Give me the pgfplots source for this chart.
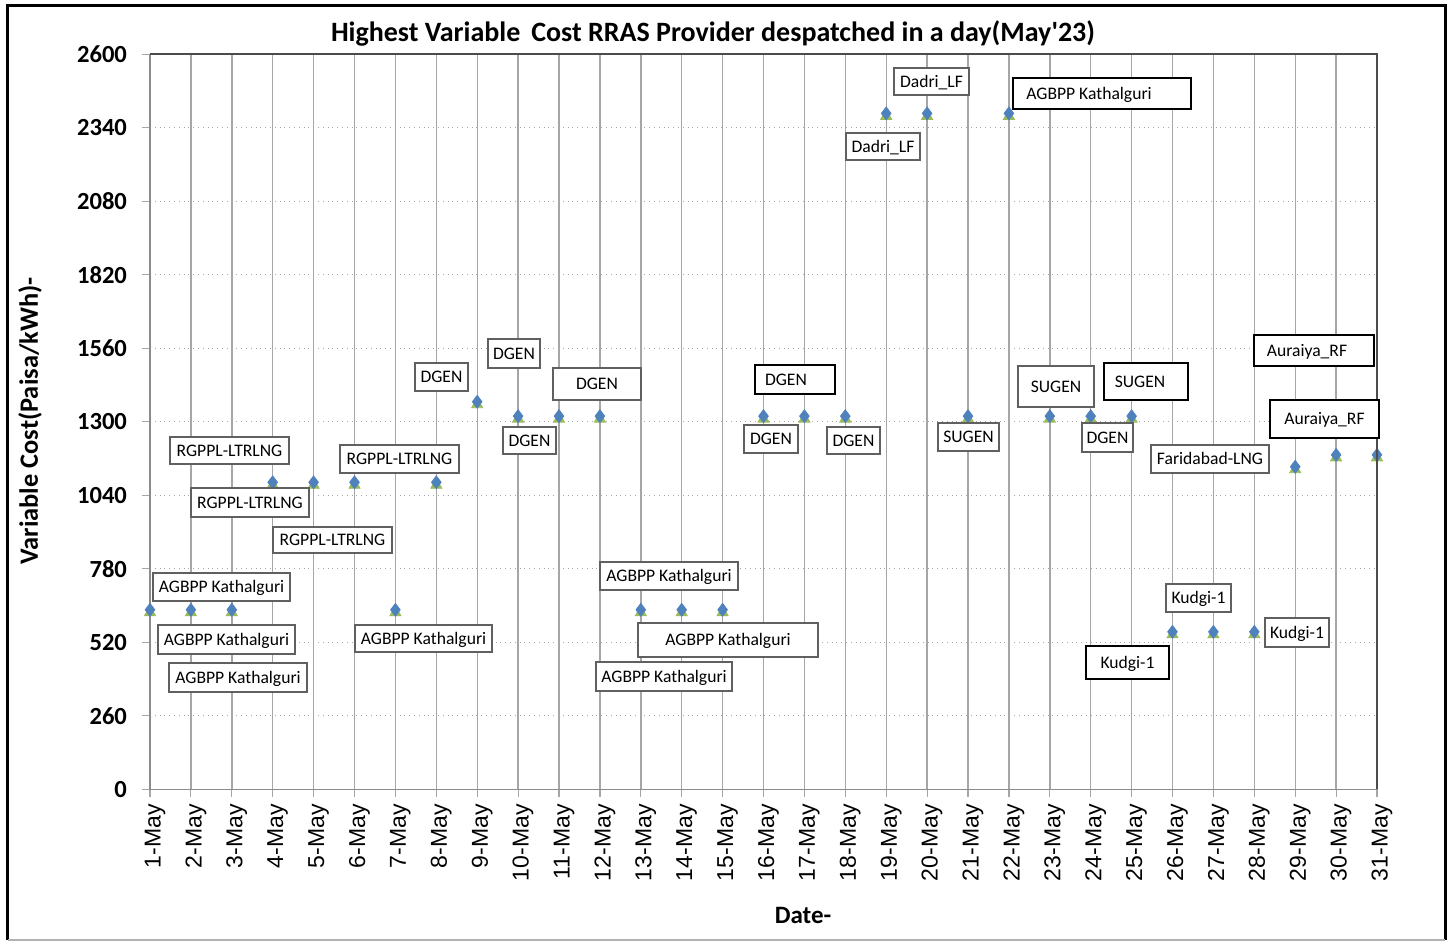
\documentclass[border=0pt]{standalone}
\usepackage{fontspec}
\setmainfont{Carlito}
\newfontfamily\arialf{Liberation Sans}
\usepackage{pgfplots}
\pgfplotsset{compat=1.18}
\definecolor{mkblue}{HTML}{4F81BD}
\definecolor{mkgreen}{HTML}{9BBB59}
\definecolor{gridc}{HTML}{A6A6A6}
\definecolor{boxc}{HTML}{606060}
\newcommand{\annfont}{\fontsize{8.8}{10}\selectfont}
% \ann[color]{px}{py}{w}{h}{dx}{text}
\newcommand{\ann}[7][boxc]{%
  \node[draw=#1, fill=white, line width=0.8pt, minimum width=#4*0.5pt, minimum height=#5*0.5pt, inner sep=0pt]
    at ({(#2-150)*0.5pt},{(789.3-#3)*0.5pt}) {};
  \node[font=\annfont, inner sep=0pt, anchor=base]
    at ({(#2+#6-150)*0.5pt},{(789.3-#3)*0.5pt-3pt}) {#7};}
\pgfplotstableread{
x y
1 635
2 635
3 635
4 1086
5 1086
6 1086
7 635
8 1086
9 1371
10 1320
11 1320
12 1320
13 635
14 635
15 635
16 1320
17 1320
18 1320
19 2391
20 2391
21 1320
22 2391
23 1320
24 1320
25 1320
26 557
27 557
28 557
29 1141
30 1183
31 1183
}\costdata
\begin{document}
\begin{tikzpicture}
\path[use as bounding box] (-75pt,-75.85pt) rectangle (651.5pt,394.65pt);
\begin{axis}[
  at={(0pt,0pt)}, anchor=south west,
  scale only axis, width=613.5pt, height=367.5pt,
  xmin=1, xmax=31, ymin=0, ymax=2600,
  clip=false,
  xtick={1,...,31},
  xticklabels={1-May,2-May,3-May,4-May,5-May,6-May,7-May,8-May,9-May,10-May,11-May,12-May,13-May,14-May,15-May,16-May,17-May,18-May,19-May,20-May,21-May,22-May,23-May,24-May,25-May,26-May,27-May,28-May,29-May,30-May,31-May},
  ytick={0,260,...,2600},
  /pgf/number format/assume math mode=true,
  /pgf/number format/1000 sep={},
  yticklabel style={font=\fontsize{12.3}{14}\selectfont\bfseries, xshift=-4pt},
  xticklabel style={font=\arialf\fontsize{11.5}{13}\selectfont, rotate=90, anchor=east, yshift=-2.5pt},
  xmajorgrids, ymajorgrids,
  x grid style={gridc, line width=0.7pt},
  y grid style={gridc, dotted, line width=0.5pt},
  axis line style={draw=gray!90, line width=0.6pt},
  tick align=outside, major tick length=4pt,
  tick style={gridc, line width=0.6pt},
  xtick pos=left, ytick pos=left,
]
\addplot[only marks, mark=triangle*, mark size=3.2pt, mark options={fill=mkgreen, draw=mkgreen, yshift=-1.4pt}] table[x=x,y=y] {\costdata};
\addplot[only marks, mark=diamond*, mark size=3.2pt, mark options={fill=mkblue, draw=mkblue}] table[x=x,y=y] {\costdata};
\end{axis}
% darker top and right edges of plot area
\draw[line width=0.8pt, draw=black!70] (0pt,367.5pt) -- (613.5pt,367.5pt) -- (613.5pt,0pt);
% annotations
\ann{221.5}{587}{137}{28}{0}{AGBPP Kathalguri}
\ann{226.5}{639.5}{137}{29}{0}{AGBPP Kathalguri}
\ann{238}{677.5}{138}{29}{0}{AGBPP Kathalguri}
\ann{229.5}{450.5}{119}{27}{0}{RGPPL-LTRLNG}
\ann{250}{502.5}{118}{29}{0}{RGPPL-LTRLNG}
\ann{332.5}{540}{119}{26}{0}{RGPPL-LTRLNG}
\ann{399.5}{459}{119}{28}{0}{RGPPL-LTRLNG}
\ann{441.5}{377}{53}{28}{0}{DGEN}
\ann{514}{353.5}{52}{29}{0}{DGEN}
\ann{597}{384}{88}{32}{0}{DGEN}
\ann{529.5}{440.5}{53}{27}{0}{DGEN}
\ann{423.5}{638.5}{137}{27}{0}{AGBPP Kathalguri}
\ann{669}{576}{138}{28}{0}{AGBPP Kathalguri}
\ann{728}{640}{180}{34}{0}{AGBPP Kathalguri}
\ann{664}{676.5}{136}{29}{0}{AGBPP Kathalguri}
\ann[black]{795}{379.5}{80}{29}{-9}{DGEN}
\ann{771}{439}{54}{28}{0}{DGEN}
\ann{853.5}{440.5}{53}{27}{0}{DGEN}
\ann{968.5}{437}{61}{28}{0}{SUGEN}
\ann{1056}{386.5}{76}{41}{0}{SUGEN}
\ann[black]{1146}{381.5}{84}{37}{-6}{SUGEN}
\ann{1107.5}{437.5}{51}{29}{0}{DGEN}
\ann{1210}{459}{118}{28}{0}{Faridabad-LNG}
\ann[black]{1314}{350.5}{120}{31}{-7}{Auraiya\_RF}
\ann[black]{1324.5}{419}{109}{38}{0}{Auraiya\_RF}
\ann{931.5}{81.5}{75}{27}{0}{Dadri\_LF}
\ann{883}{146.5}{74}{27}{0}{Dadri\_LF}
\ann[black]{1102}{93.5}{178}{31}{-13}{AGBPP Kathalguri}
\ann{1198.5}{598}{65}{28}{0}{Kudgi-1}
\ann{1297}{632.5}{64}{29}{0}{Kudgi-1}
\ann[black]{1127.5}{662.5}{83}{33}{0}{Kudgi-1}
% titles
\node[font=\fontsize{14}{16}\selectfont\bfseries] at ({(713-150)*0.5pt},{(789.3-33)*0.5pt}) {Highest Variable\, Cost RRAS Provider despatched in a day(May\textquotesingle 23)};
\node[rotate=90, font=\fontsize{13.2}{16}\selectfont\bfseries] at ({(30-150)*0.5pt},{(789.3-421)*0.5pt}) {Variable Cost(Paisa/kWh)-};
\node[font=\fontsize{12.5}{15}\selectfont\bfseries] at ({(803-150)*0.5pt},{(789.3-915)*0.5pt}) {Date-};
% outer frame
\draw[line width=1.5pt] (-71pt,-75.3pt) -- (-71pt,391.65pt) -- (647.5pt,391.65pt) -- (647.5pt,-75.3pt);
\draw[line width=0.8pt, gray!60] (-71pt,-75.3pt) -- (647.5pt,-75.3pt);
\end{tikzpicture}
\end{document}
